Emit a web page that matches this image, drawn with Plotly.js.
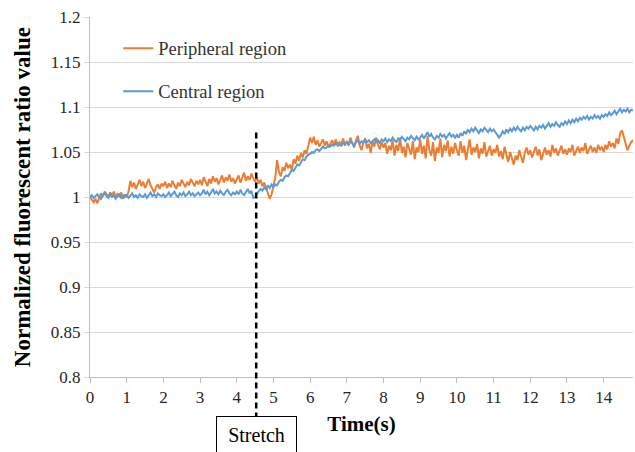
<!DOCTYPE html>
<html>
<head>
<meta charset="utf-8">
<script src="https://cdn.plot.ly/plotly-3.0.1.min.js"></script>
<style>html,body{margin:0;padding:0;background:#fff;}#chart{width:635px;height:452px;}</style>
</head>
<body>
<div id="chart"></div>
<script>
// Sampling interval of the recordings (s)
const sampleStep = 0.05;

// Normalized fluorescent ratio, peripheral region (t = 0 ... 14.8 s)
const peripheral = [
  1.000,0.997,0.994,0.998,0.993,0.999,1.004,1.001,1.006,1.003, 1.000,1.005,1.002,1.006,0.999,1.004,1.001,1.005,0.998,1.003,
  1.000,1.006,1.018,1.011,1.016,1.009,1.014,1.019,1.012,1.017, 1.010,1.015,1.020,1.013,1.008,1.005,1.011,1.014,1.009,1.015,
  1.012,1.017,1.010,1.015,1.011,1.018,1.013,1.009,1.016,1.012, 1.019,1.014,1.011,1.017,1.013,1.020,1.015,1.012,1.018,1.014,
  1.019,1.013,1.022,1.016,1.012,1.020,1.015,1.023,1.017,1.021, 1.014,1.019,1.024,1.016,1.022,1.018,1.025,1.017,1.021,1.015,
  1.020,1.024,1.016,1.022,1.027,1.018,1.023,1.019,1.026,1.021, 1.017,1.022,1.015,1.019,1.012,1.016,1.009,1.004,0.998,1.003,
  1.011,1.022,1.041,1.028,1.023,1.033,1.029,1.038,1.032,1.036, 1.030,1.042,1.037,1.046,1.040,1.049,1.044,1.052,1.048,1.058,
  1.066,1.060,1.067,1.058,1.063,1.056,1.061,1.064,1.057,1.062, 1.055,1.060,1.063,1.058,1.064,1.056,1.061,1.059,1.065,1.057,
  1.062,1.058,1.066,1.060,1.055,1.063,1.068,1.057,1.052,1.061, 1.065,1.054,1.059,1.049,1.062,1.056,1.066,1.058,1.053,1.061,
  1.055,1.060,1.048,1.057,1.052,1.063,1.046,1.058,1.051,1.066, 1.049,1.056,1.044,1.060,1.053,1.047,1.062,1.042,1.055,1.050,
  1.064,1.048,1.057,1.043,1.068,1.052,1.046,1.061,1.040,1.055, 1.049,1.065,1.044,1.058,1.051,1.063,1.045,1.056,1.048,1.060,
  1.052,1.046,1.062,1.049,1.057,1.041,1.053,1.064,1.047,1.055, 1.050,1.059,1.043,1.054,1.048,1.061,1.045,1.052,1.057,1.046,
  1.053,1.049,1.058,1.045,1.051,1.042,1.056,1.047,1.039,1.050, 1.044,1.036,1.046,1.041,1.052,1.045,1.038,1.049,1.055,1.047,
  1.052,1.044,1.050,1.056,1.046,1.053,1.041,1.049,1.055,1.047, 1.052,1.045,1.058,1.049,1.054,1.046,1.051,1.057,1.048,1.053,
  1.047,1.054,1.050,1.058,1.046,1.052,1.056,1.049,1.055,1.051, 1.060,1.048,1.053,1.057,1.050,1.055,1.049,1.058,1.052,1.056,
  1.050,1.058,1.053,1.062,1.056,1.060,1.054,1.065,1.059,1.071, 1.074,1.066,1.058,1.052,1.057,1.061,1.063
];

// Normalized fluorescent ratio, central region (t = 0 ... 14.8 s)
const central = [
  1.000,1.002,0.999,1.001,1.003,1.000,0.998,1.002,1.004,1.001, 0.999,1.003,1.000,1.002,0.998,1.001,1.003,0.999,1.002,1.000,
  1.002,0.999,1.001,1.004,1.000,1.002,0.999,1.003,1.001,1.000, 1.003,0.999,1.002,1.005,1.001,1.003,1.000,1.004,1.002,1.001,
  1.003,1.000,1.002,1.005,1.001,1.003,1.006,1.002,1.000,1.004, 1.002,1.005,1.001,1.003,1.006,1.002,1.004,1.001,1.003,1.005,
  1.002,1.004,1.008,1.003,1.006,1.002,1.005,1.009,1.004,1.006, 1.003,1.007,1.004,1.002,1.006,1.008,1.004,1.002,1.005,1.003,
  1.006,1.003,1.008,1.004,1.002,1.006,1.009,1.004,1.007,0.999, 1.000,1.004,1.006,1.009,1.007,1.011,1.008,1.013,1.010,1.014,
  1.011,1.014,1.013,1.017,1.019,1.018,1.022,1.024,1.023,1.027, 1.030,1.029,1.033,1.036,1.035,1.039,1.042,1.041,1.045,1.047,
  1.048,1.050,1.049,1.052,1.053,1.051,1.054,1.056,1.054,1.055, 1.057,1.056,1.058,1.057,1.059,1.060,1.058,1.057,1.060,1.059,
  1.061,1.058,1.062,1.059,1.057,1.061,1.063,1.059,1.062,1.060, 1.064,1.061,1.063,1.060,1.062,1.064,1.061,1.063,1.060,1.064,
  1.062,1.065,1.061,1.064,1.062,1.066,1.063,1.061,1.065,1.063, 1.067,1.064,1.062,1.066,1.064,1.068,1.065,1.063,1.067,1.064,
  1.066,1.069,1.065,1.068,1.072,1.067,1.070,1.066,1.064,1.068, 1.066,1.070,1.067,1.069,1.065,1.068,1.071,1.067,1.069,1.066,
  1.069,1.066,1.071,1.068,1.073,1.070,1.075,1.072,1.076,1.073, 1.077,1.074,1.071,1.075,1.073,1.077,1.074,1.072,1.076,1.073,
  1.075,1.072,1.070,1.066,1.069,1.073,1.070,1.075,1.072,1.076, 1.073,1.077,1.074,1.078,1.075,1.073,1.077,1.074,1.078,1.076,
  1.079,1.076,1.074,1.078,1.075,1.079,1.077,1.080,1.076,1.079, 1.082,1.078,1.081,1.079,1.083,1.080,1.078,1.082,1.080,1.084,
  1.081,1.085,1.082,1.086,1.083,1.087,1.084,1.088,1.086,1.089, 1.087,1.090,1.086,1.089,1.087,1.091,1.088,1.090,1.087,1.091,
  1.089,1.092,1.090,1.094,1.091,1.093,1.096,1.092,1.095,1.098, 1.094,1.097,1.095,1.098,1.094,1.097,1.096
];

const seriesNames = ["Peripheral region", "Central region"];
const yTickVals = [0.8, 0.85, 0.9, 0.95, 1, 1.05, 1.1, 1.15, 1.2];
const yTickText = ["0.8", "0.85", "0.9", "0.95", "1", "1.05", "1.1", "1.15", "1.2"];
const xTickVals = [0,1,2,3,4,5,6,7,8,9,10,11,12,13,14];
const stretchTime = 4.53;
const stretchLabel = "Stretch";
const xTitle = "Time(s)";
const yTitle = "Normalized fluorescent ratio value";

const time = peripheral.map((_, i) => +(i * sampleStep).toFixed(2));

const serif = "Liberation Serif";

const traces = [
  { x: time, y: peripheral, name: seriesNames[0], type: "scatter", mode: "lines",
    legendgroup: "p", line: { color: "#ED7D31", width: 2 } },
  { x: time, y: central, name: seriesNames[1], type: "scatter", mode: "lines",
    legendgroup: "c", line: { color: "#5B9BD5", width: 2 } }
];

const layout = {
  width: 635, height: 452,
  margin: { l: 90, r: 2, t: 17, b: 75 },
  paper_bgcolor: "#ffffff", plot_bgcolor: "#ffffff",
  font: { family: serif, color: "#404040", size: 17 },
  showlegend: true,
  legend: {
    x: 0.052, y: 0.965, xanchor: "left", yanchor: "top",
    bgcolor: "rgba(0,0,0,0)", font: { family: serif, size: 18.5, color: "#333333" },
    traceorder: "grouped", tracegroupgap: 16
  },
  xaxis: {
    range: [0, 14.8], tickvals: xTickVals, ticks: "outside", ticklen: 5,
    tickcolor: "#bfbfbf", showgrid: false, zeroline: false,
    showline: true, linecolor: "#bfbfbf", linewidth: 1,
    tickfont: { family: serif, size: 17, color: "#262626" },
    title: { text: "<b>" + xTitle + "</b>", font: { family: serif, size: 21, color: "#000" }, standoff: 9 }
  },
  yaxis: {
    range: [0.8, 1.2], tickvals: yTickVals, ticktext: yTickText,
    ticks: "outside", ticklen: 5, tickcolor: "#d9d9d9",
    showgrid: true, gridcolor: "#d9d9d9", gridwidth: 1, zeroline: false,
    showline: true, linecolor: "#bfbfbf", linewidth: 1,
    tickfont: { family: serif, size: 17, color: "#262626" }
  },
  shapes: [{
    type: "line", xref: "x", yref: "paper",
    x0: stretchTime, x1: stretchTime, y0: -0.115, y1: 0.68,
    line: { color: "#000", width: 2.5, dash: "6px,4px" }
  }],
  annotations: [{
    text: stretchLabel, xref: "x", yref: "paper", x: stretchTime, y: -0.162,
    xanchor: "center", yanchor: "middle", showarrow: false,
    width: 79, height: 36, borderpad: 0, bordercolor: "#000", borderwidth: 1, bgcolor: "#fff",
    font: { family: serif, size: 20, color: "#000" }
  }, {
    text: "<b>" + yTitle + "</b>", xref: "paper", yref: "paper", x: -0.125, y: 0.5,
    xanchor: "center", yanchor: "middle", textangle: -90, showarrow: false,
    font: { family: serif, size: 23, color: "#000" }
  }]
};

Plotly.newPlot("chart", traces, layout, { displayModeBar: false, staticPlot: true });
</script>
</body>
</html>
